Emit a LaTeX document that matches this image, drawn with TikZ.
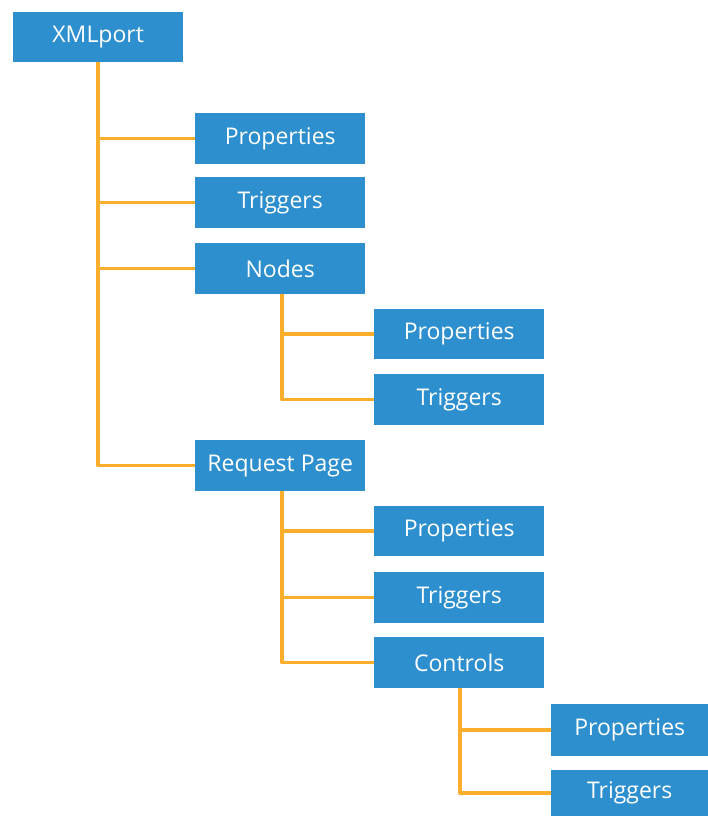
\documentclass[tikz,border=0pt]{standalone}
\usepackage{fontspec}
\setmainfont{Open Sans}
\definecolor{boxblue}{HTML}{2E8FCE}
\definecolor{lineorange}{HTML}{FBAE2C}
\begin{document}
\begin{tikzpicture}[x=1pt,y=-1pt,
  box/.style={fill=boxblue, draw=none, text=white, font=\fontsize{23}{26}\selectfont, inner sep=0pt, anchor=north west},
  conn/.style={draw=lineorange, line width=3.5pt, line join=round}]
\useasboundingbox (0,0) rectangle (708,816);
\fill[white] (0,0) rectangle (708,816);
\newcommand{\mybox}[6]{\node[box, minimum width=#4, minimum height=#5] (#1) at (#2,#3) {\raisebox{-2pt}{#6}};}
\mybox{xml}{13}{12}{170}{50}{XMLport}
\mybox{p1}{195}{113}{170}{51}{Properties}
\mybox{t1}{195}{177}{170}{51}{Triggers}
\mybox{nodes}{195}{243}{170}{51}{Nodes}
\mybox{p2}{374}{309}{170}{50}{Properties}
\mybox{t2}{374}{374}{170}{51}{Triggers}
\mybox{rp}{195}{440}{170}{51}{Request Page}
\mybox{p3}{374}{506}{170}{50}{Properties}
\mybox{t3}{374}{572}{170}{51}{Triggers}
\mybox{ctl}{374}{637}{170}{51}{Controls}
\mybox{p4}{551}{704}{157}{52}{Properties}
\mybox{t4}{551}{770}{157}{46}{Triggers}
% connectors
\draw[conn] (xml.south -| 98,0) |- (rp.west);
\draw[conn] (98,0 |- p1.west) -- (p1.west);
\draw[conn] (98,0 |- t1.west) -- (t1.west);
\draw[conn] (98,0 |- nodes.west) -- (nodes.west);
\draw[conn] (nodes.south -| 282,0) |- (t2.west);
\draw[conn] (282,0 |- p2.west) -- (p2.west);
\draw[conn] (rp.south -| 282,0) |- (ctl.west);
\draw[conn] (282,0 |- p3.west) -- (p3.west);
\draw[conn] (282,0 |- t3.west) -- (t3.west);
\draw[conn] (ctl.south -| 460,0) |- (t4.west);
\draw[conn] (460,0 |- p4.west) -- (p4.west);
\end{tikzpicture}
\end{document}
